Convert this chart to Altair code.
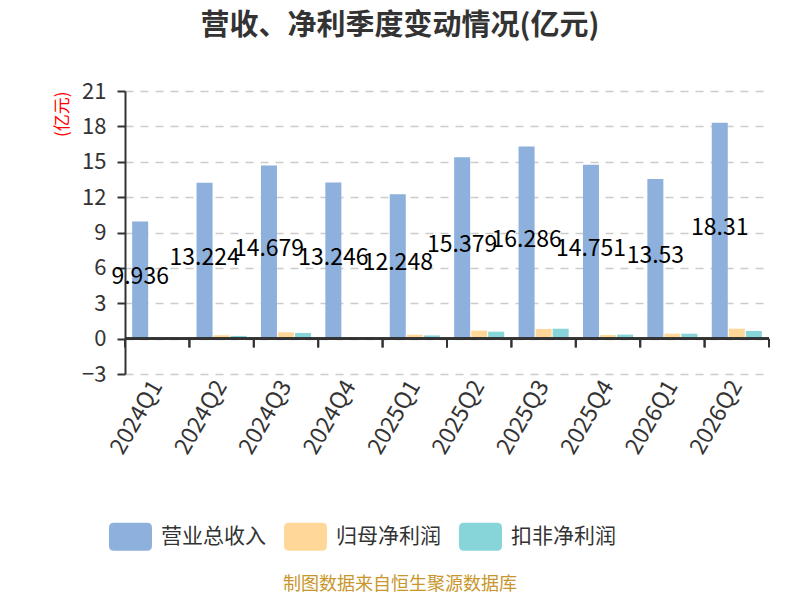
import altair as alt
import pandas as pd

FONT = "Noto Sans CJK SC"

quarters = ["2024Q1", "2024Q2", "2024Q3", "2024Q4", "2025Q1",
            "2025Q2", "2025Q3", "2025Q4", "2026Q1", "2026Q2"]
revenue = [9.936, 13.224, 14.679, 13.246, 12.248, 15.379, 16.286, 14.751, 13.53, 18.31]
net_profit = [0.03, 0.29, 0.54, 0.12, 0.33, 0.68, 0.82, 0.31, 0.42, 0.84]
deducted_profit = [0.02, 0.23, 0.48, 0.12, 0.27, 0.59, 0.84, 0.34, 0.42, 0.65]
series_names = ["营业总收入", "归母净利润", "扣非净利润"]
colors = ["#8eb0dc", "#ffd899", "#87d5d9"]
y_ticks = [-3, 0, 3, 6, 9, 12, 15, 18, 21]

rows = []
for i, q in enumerate(quarters):
    for s, vals in zip(series_names, [revenue, net_profit, deducted_profit]):
        rows.append({"quarter": q, "series": s, "value": vals[i]})
df = pd.DataFrame(rows)
rev_df = pd.DataFrame({"quarter": quarters, "value": revenue,
                       "label": [str(v) for v in revenue]})
q_df = pd.DataFrame({"quarter": quarters})

x_scale = alt.Scale(domain=quarters, paddingInner=0, paddingOuter=0)
x_axis = alt.Axis(title=None, labelAngle=-60, labelFontSize=23, labelColor="#333",
                  labelFont=FONT, domain=False, ticks=False, grid=False, labelPadding=8)
y_scale = alt.Scale(domain=[-3, 21], nice=False)
y_axis = alt.Axis(values=y_ticks, title="(亿元)", titleColor="red", titleFontSize=17,
                  titleFontWeight="normal", titleFont=FONT, titleAngle=270, titleX=-63,
                  titleY=0, titleAlign="right", titleBaseline="middle",
                  labelFontSize=22, labelColor="#333", labelFont=FONT, labelPadding=11,
                  domainColor="#333", domainWidth=2, tickColor="#333", tickWidth=2,
                  tickSize=8, gridColor="#cccccc", gridDash=[8, 7], gridWidth=1.5)

x = alt.X("quarter:N", sort=quarters, scale=x_scale, axis=x_axis)
y = alt.Y("value:Q", scale=y_scale, axis=y_axis)

symbol_path = ("M-0.77,-0.65 L0.77,-0.65 Q1,-0.65 1,-0.42 L1,0.42 Q1,0.65 0.77,0.65 "
               "L-0.77,0.65 Q-1,0.65 -1,0.42 L-1,-0.42 Q-1,-0.65 -0.77,-0.65 Z")

bars = alt.Chart(df).mark_bar().encode(
    x=x,
    xOffset=alt.XOffset("series:N", sort=series_names,
                        scale=alt.Scale(domain=series_names, paddingInner=0.06, paddingOuter=0.42)),
    y=y,
    color=alt.Color("series:N", sort=series_names,
                    scale=alt.Scale(domain=series_names, range=colors),
                    legend=alt.Legend(title=None, orient="none", legendX=-16, legendY=424,
                                      direction="horizontal", symbolType=symbol_path,
                                      symbolSize=1849, symbolStrokeWidth=0, symbolOpacity=1,
                                      labelFontSize=21, labelColor="#333", labelFont=FONT,
                                      labelOffset=9, columnPadding=18, labelLimit=300)),
)

zero_rule = alt.Chart(q_df).mark_rule(color="#333", strokeWidth=2).encode(
    y=alt.datum(0, scale=y_scale, axis=y_axis)
)

ticks_start = alt.Chart(q_df).mark_rule(color="#333", strokeWidth=2).encode(
    x=alt.X("quarter:N", sort=quarters, scale=x_scale, axis=x_axis, bandPosition=0),
    y=alt.datum(0, scale=y_scale, axis=y_axis),
    y2=alt.datum(-0.75),
)
ticks_end = alt.Chart(q_df).mark_rule(color="#333", strokeWidth=2).encode(
    x=alt.X("quarter:N", sort=quarters, scale=x_scale, axis=x_axis, bandPosition=1),
    y=alt.datum(0, scale=y_scale, axis=y_axis),
    y2=alt.datum(-0.75),
)

labels = alt.Chart(rev_df).transform_calculate(mid="datum.value / 2").mark_text(
    fontSize=23, color="black", font=FONT, dx=-17, dy=-3, baseline="middle", align="center"
).encode(
    x=x,
    y=alt.Y("mid:Q", scale=y_scale, axis=y_axis),
    text="label:N",
)

source = alt.Chart(pd.DataFrame({"t": ["制图数据来自恒生聚源数据库"]})).mark_text(
    fontSize=18, color="#c8962a", font=FONT, baseline="middle", align="center"
).encode(x=alt.value(275), y=alt.value(494), text="t:N")

chart = alt.layer(bars, zero_rule, ticks_start, ticks_end, labels, source).properties(
    width=644,
    height=283,
    title=alt.TitleParams("营收、净利季度变动情况(亿元)", fontSize=29, fontWeight="bold",
                          color="#333", font=FONT, anchor="middle", frame="group",
                          dx=-47, offset=39),
    autosize=alt.AutoSizeParams(type="none"),
    padding={"left": 117, "top": 83, "right": 23, "bottom": 222},
).configure_view(stroke=None)

chart.save("out.html", embed_options={"renderer": "svg", "actions": False})
